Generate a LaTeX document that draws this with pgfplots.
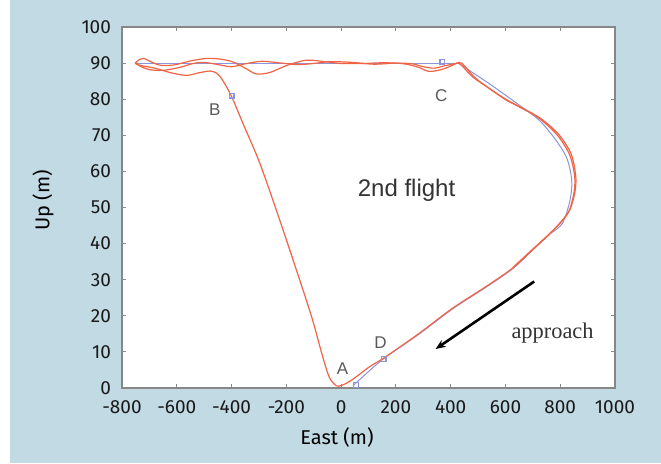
\documentclass[border=0pt]{standalone}
\usepackage{fontspec}
\setmainfont{Fira Sans}
\newfontfamily\arialfont{Liberation Sans}
\newfontfamily\timesfont{Liberation Serif}
\usepackage{pgfplots}
\pgfplotsset{compat=1.18}
\usetikzlibrary{arrows.meta}

\definecolor{bgblue}{RGB}{194,218,228}
\definecolor{trackred}{RGB}{240,100,70}
\definecolor{refblue}{RGB}{140,148,220}
\definecolor{boxgray}{RGB}{135,135,135}

\begin{document}
\begin{tikzpicture}
\useasboundingbox (0,0) rectangle (330.5pt,231.5pt);
\fill[bgblue] (5pt,0) rectangle (330.5pt,231.5pt);
\begin{axis}[
    at={(61pt,37.5pt)}, anchor=south west,
    scale only axis, width=246.5pt, height=180.5pt,
    xmin=-800, xmax=1000, ymin=0, ymax=100,
    axis background/.style={fill=white},
    axis line style={boxgray, line width=0.8pt},
    xtick={-800,-600,...,1000},
    xticklabels={-800,-600,-400,-200,0,200,400,600,800,1000},
    ytick={0,10,...,100},
    yticklabels={0,10,20,30,40,50,60,70,80,90,100},
    tick align=inside, major tick length=2pt,
    tick style={boxgray, line width=0.5pt},
    ticklabel style={font=\fontsize{9.5}{11}\selectfont, text=black!90},
    xticklabel style={yshift=-3pt},
    yticklabel style={xshift=-2pt},
    xlabel={East (m)}, ylabel={Up (m)},
    label style={font=\fontsize{9.5}{11}\selectfont, text=black!90},
    every axis x label/.style={at={([yshift=-24.5pt]axis description cs:0.436,0)}, anchor=center},
    every axis y label/.style={at={([xshift=-39.5pt]axis description cs:0,0.52)}, anchor=center, rotate=90},
    clip=false,
]
% reference path
\addplot[refblue, line width=0.5pt] coordinates {
 (-750,89.8) (432,89.8) };
\addplot[refblue, line width=0.5pt, smooth] coordinates {
 (432,89.8) (541,84.3) (650,78.4) (723,74.2) (784,68.7) (825,63.5) (842,57.5)
 (836,52.1) (808,45.6) (760,42.5) (699,38.2) (626,33.0) (529,27.9) (407,21.9)
 (286,15.0) (150,7.8) (43,0.6) };
% measured track, pass 1
\addplot[trackred, line width=0.6pt, smooth, tension=0.5] coordinates {
 (-752,89.9) (-740,90.8) (-720,91.3) (-695,90.4) (-660,89.4) (-610,89.5) (-550,90.6)
 (-491,91.3) (-440,91.1) (-394,90.3) (-350,88.6) (-310,87.0) (-260,87.4) (-200,89.3)
 (-127,90.8) (-60,90.4) (0,89.9) (80,89.9) (160,90.1) (230,89.8) (280,88.9) (322,87.7)
 (370,88.3) (410,89.5) (432,89.9)
 (480,86.2) (541,83.0) (602,79.8) (650,77.9) (723,74.7) (790,70.0) (835,64.5)
 (853,58.5) (850,53.9) (833,49.2) (805,46.2) (760,42.6) (699,38.3) (626,33.2)
 (529,28.1) (407,22.1) (286,15.2) (200,10.6) (150,8.0) (104,5.9) (50,2.8) (19,1.3)
 (0,0.7) (-17,0.6) (-42,2.8) (-67,8.6) (-104,18.8) (-151,29.9) (-224,46.5)
 (-297,62.3) (-359,73.4) (-399,80.6) (-432,85.2) (-454,87.2) (-479,87.8)
 (-520,87.3) (-564,86.6) (-620,87.3) (-680,88.6) (-730,89.3) (-752,89.9) };
% measured track, pass 2
\addplot[trackred, line width=0.6pt, smooth, tension=0.5] coordinates {
 (-752,90.2) (-735,89.2) (-700,88.2) (-650,88.0) (-590,88.8) (-540,89.9) (-500,90.2)
 (-450,89.6) (-400,89.0) (-350,89.8) (-290,90.5) (-230,90.1) (-160,89.6) (-100,89.9)
 (-40,90.4) (40,90.2) (120,89.7) (200,90.0) (260,89.8) (300,89.0) (340,88.6)
 (380,89.3) (420,89.9) (440,90.0)
 (490,85.9) (550,82.5) (610,79.6) (660,77.6) (730,74.6) (795,70.2) (840,64.8)
 (857,58.5) (853,54.0) (836,49.5) (808,46.4) (762,42.8) (699,38.4) (626,33.3) };
% waypoints
\addplot[only marks, mark=square, mark size=1.2pt, refblue, line width=0.6pt] coordinates {
 (-400,81) (370,90.4) (155,8) (55,0.8) };
% approach arrow
\addplot[black, line width=1.3pt, -{Stealth[length=5pt,width=4pt]}] coordinates {
 (705,29.5) (345,10.8) };
\node[font=\arialfont\fontsize{8.5}{10}\selectfont, text=black!65] at (axis cs:-461,77) {B};
\node[font=\arialfont\fontsize{8.5}{10}\selectfont, text=black!65] at (axis cs:366,81) {C};
\node[font=\arialfont\fontsize{8.5}{10}\selectfont, text=black!65] at (axis cs:144,12.7) {D};
\node[font=\arialfont\fontsize{8.5}{10}\selectfont, text=black!65] at (axis cs:5,5.3) {A};
\node[font=\arialfont\fontsize{12}{14}\selectfont, text=black!80] at (axis cs:239,54.8) {2nd flight};
\node[font=\timesfont\fontsize{11.2}{13}\selectfont, text=black!80] at (axis cs:772,15.2) {approach};
\end{axis}
\end{tikzpicture}
\end{document}
